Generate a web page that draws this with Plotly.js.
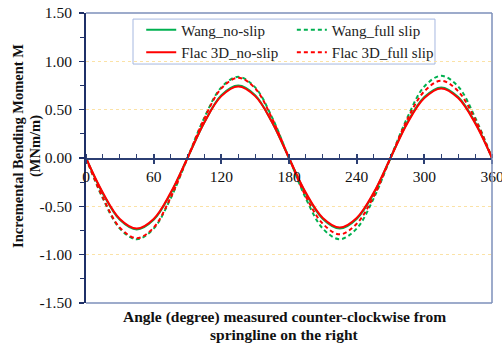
<!DOCTYPE html>
<html>
<head>
<meta charset="utf-8">
<script src="https://cdn.plot.ly/plotly-3.0.1.min.js"></script>
<style>
html,body{margin:0;padding:0;background:#fff;}
#chart{width:502px;height:343px;}
</style>
</head>
<body>
<div id="chart"></div>
<script>
// Angle (degree)
const angles = [0,15,30,45,60,75,90,105,120,135,150,165,180,195,210,225,240,255,270,285,300,315,330,345,360];
// Incremental bending moment (MNm/m)
const wangNoSlip   = [0,-0.37,-0.64,-0.74,-0.64,-0.37,0,0.37,0.65,0.75,0.65,0.37,0,-0.37,-0.63,-0.73,-0.63,-0.37,0,0.37,0.63,0.73,0.63,0.37,0];
const wangFullSlip = [0,-0.42,-0.73,-0.84,-0.73,-0.42,0,0.42,0.73,0.84,0.73,0.42,0,-0.42,-0.73,-0.84,-0.73,-0.42,0,0.42,0.74,0.85,0.74,0.42,0];
const flacNoSlip   = [0,-0.36,-0.63,-0.73,-0.63,-0.36,0,0.37,0.64,0.74,0.64,0.37,0,-0.36,-0.62,-0.72,-0.62,-0.36,0,0.36,0.62,0.72,0.62,0.36,0];
const flacFullSlip = [0,-0.41,-0.72,-0.83,-0.72,-0.41,0,0.41,0.72,0.83,0.72,0.41,0,-0.40,-0.68,-0.79,-0.68,-0.40,0,0.40,0.69,0.80,0.69,0.40,0];
const seriesNames = ['Wang_no-slip','Wang_full slip','Flac 3D_no-slip','Flac 3D_full slip'];
const xTickVals = [0,60,120,180,240,300,360];
const xTickText = ['0','60','120','180','240','300','360'];
const yTickVals = [-1.5,-1.0,-0.5,0,0.5,1.0,1.5];
const yTickText = ['-1.50','-1.00','-0.50','0.00','0.50','1.00','1.50'];

const GREEN = '#00B050', RED = '#FF0000';
const serif = 'Times New Roman, Liberation Serif, serif';

function tr(y, name, color, dash, leg){
  return {x: angles, y: y, name: name, type:'scatter', mode:'lines', legend: leg,
    line:{color:color, width:2, dash:dash, shape:'spline', smoothing:1}};
}
const data = [
  tr(wangNoSlip, seriesNames[0], GREEN, 'solid', 'legend'),
  tr(wangFullSlip, seriesNames[1], GREEN, '4px,3px', 'legend2'),
  tr(flacNoSlip, seriesNames[2], RED, 'solid', 'legend'),
  tr(flacFullSlip, seriesNames[3], RED, '4px,3px', 'legend2'),
  {x:[0,360], y:[0,0], xaxis:'x2', type:'scatter', mode:'lines', line:{width:0}, showlegend:false, hoverinfo:'skip'}
];

const legFont = {family:serif, size:15, color:'#222'};
const layout = {
  width:502, height:343,
  margin:{l:86, r:10, t:13, b:40},
  paper_bgcolor:'#fff', plot_bgcolor:'#fff',
  font:{family:serif, size:15, color:'#111'},
  showlegend:true,
  legend:{x:0.136, y:0.998, xanchor:'left', yanchor:'top', bgcolor:'rgba(0,0,0,0)', borderwidth:0, font:legFont, traceorder:'normal'},
  legend2:{x:0.507, y:0.998, xanchor:'left', yanchor:'top', bgcolor:'rgba(0,0,0,0)', borderwidth:0, font:legFont, traceorder:'normal'},
  xaxis:{range:[0,360], anchor:'free', position:0.5,
    tickvals:xTickVals, ticktext:xTickText, ticklabeloverflow:'allow',
    ticks:'outside', ticklen:4, tickwidth:2, tickcolor:'#2c3f73',
    minor:{dtick:15, tick0:0, ticks:'inside', ticklen:4, tickwidth:1, tickcolor:'#2c3f73', showgrid:false},
    showline:true, linecolor:'#2c3f73', linewidth:1.5,
    showgrid:false, zeroline:false,
    tickfont:{family:serif, size:15.5, color:'#111'}},
  xaxis2:{range:[0,360], overlaying:'x', anchor:'free', position:0.5,
    tickvals:xTickVals, ticks:'inside', ticklen:4, tickwidth:2, tickcolor:'#2c3f73',
    showticklabels:false, showline:false, showgrid:false, zeroline:false},
  yaxis:{range:[-1.5,1.5], tickvals:yTickVals, ticktext:yTickText,
    ticks:'outside', ticklen:5, tickwidth:1.5, tickcolor:'#1f3068', ticklabelstandoff:4,
    minor:{dtick:0.25, tick0:0, ticks:'outside', ticklen:4, tickwidth:1, tickcolor:'#1f3068', showgrid:false},
    showline:true, linecolor:'#1f3068', linewidth:2,
    showgrid:true, gridcolor:'#FBE2A6', gridwidth:1, griddash:'dot',
    zeroline:false,
    tickfont:{family:serif, size:15.5, color:'#111'}},
  shapes:[
    {type:'rect', xref:'paper', yref:'paper', x0:0.1158, x1:0.8596, y0:0.824, y1:0.979, layer:'between',
     fillcolor:'#fff', line:{color:'#a6b8e0', width:1}},
    {type:'line', xref:'paper', yref:'paper', x0:0, x1:1, y0:1, y1:1, line:{color:'#7d8fba', width:1.5}},
    {type:'line', xref:'paper', yref:'paper', x0:1, x1:1, y0:0, y1:1, line:{color:'#7d8fba', width:1.5}},
    {type:'line', xref:'paper', yref:'paper', x0:0, x1:1, y0:0, y1:0, line:{color:'#7d8fba', width:1.5}}
  ],
  annotations:[
    {xref:'paper', yref:'paper', x:-0.1675, y:0.5414, xanchor:'center', yanchor:'middle',
     textangle:-90, showarrow:false, text:'<b>Incremental Bending Moment M</b>',
     font:{family:serif, size:14.5, color:'#111'}},
    {xref:'paper', yref:'paper', x:-0.1232, y:0.5414, xanchor:'center', yanchor:'middle',
     textangle:-90, showarrow:false, text:'<b>(MNm/m)</b>',
     font:{family:serif, size:14.5, color:'#111'}},
    {xref:'paper', yref:'paper', x:0.49, y:-0.0483, xanchor:'center', yanchor:'middle',
     showarrow:false, text:'<b>Angle (degree) measured counter-clockwise from</b>',
     font:{family:serif, size:15.5, color:'#111'}},
    {xref:'paper', yref:'paper', x:0.49, y:-0.1069, xanchor:'center', yanchor:'middle',
     showarrow:false, text:'<b>springline on the right</b>',
     font:{family:serif, size:15.5, color:'#111'}}
  ]
};

Plotly.newPlot('chart', data, layout, {displayModeBar:false, staticPlot:true});
</script>
</body>
</html>
